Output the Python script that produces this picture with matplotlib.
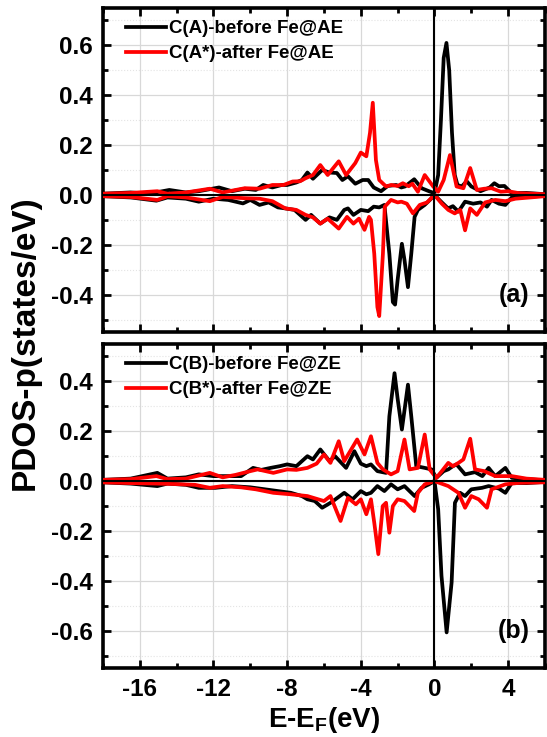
import matplotlib
matplotlib.use("Agg")
import matplotlib.pyplot as plt
from matplotlib.ticker import MultipleLocator, FormatStrFormatter

plt.rcParams['font.family'] = ['Liberation Sans', 'DejaVu Sans']
plt.rcParams['font.weight'] = 'bold'
plt.rcParams['axes.unicode_minus'] = False
plt.rcParams['mathtext.fontset'] = 'custom'
plt.rcParams['mathtext.rm'] = 'Liberation Sans:bold'
plt.rcParams['mathtext.bf'] = 'Liberation Sans:bold'

# ---- panel (a): C(A) before / C(A*) after Fe@AE ----
a_black_up_e = [-18, -16.5, -15.5, -14.4, -13.5, -12.8, -11.7, -11.0, -10.3, -9.7, -9.3, -8.8, -8.3, -8.0,
                -7.5, -7.2, -6.9, -6.6, -6.1, -5.7, -5.3, -5.0, -4.7, -4.3, -3.9, -3.6, -3.3, -2.9, -2.54,
                -2.08, -1.8, -1.6, -1.1, -0.7, -0.3, 0.0, 0.2, 0.35, 0.5, 0.65, 0.8, 0.95, 1.1, 1.25, 1.48,
                1.75, 2.0, 2.5, 3.0, 3.25, 3.5, 3.8, 4.2, 5.0, 6.0]
a_black_up = [0.005, 0.01, 0.005, 0.02, 0.01, 0.015, 0.03, 0.015, 0.025, 0.02, 0.04, 0.03, 0.04, 0.04,
              0.05, 0.06, 0.09, 0.065, 0.10, 0.09, 0.088, 0.06, 0.075, 0.045, 0.06, 0.06, 0.03, 0.015, 0.036,
              0.04, 0.03, 0.034, 0.063, 0.027, 0.015, 0.007, 0.08, 0.3, 0.55, 0.61, 0.5, 0.25, 0.08, 0.04, 0.034,
              0.055, 0.034, 0.015, 0.03, 0.047, 0.035, 0.036, 0.007, 0.008, 0.003]

a_black_dn_e = [-18, -16.5, -15.1, -14.5, -13.5, -12.8, -12.0, -11.2, -10.4, -10.0, -9.5, -9.0, -8.5, -8.1,
                -7.6, -7.0, -6.7, -6.2, -5.7, -5.3, -4.9, -4.7, -4.4, -4.0, -3.6, -3.3, -3.0, -2.72, -2.45,
                -2.26, -2.14, -2.0, -1.77, -1.63, -1.44, -1.26, -1.08, -0.9, -0.53, -0.25, 0.0, 0.4, 0.74,
                1.0, 1.3, 1.66, 2.1, 2.5, 2.85, 3.1, 3.5, 3.85, 4.2, 5.0, 6.0]
a_black_dn = [-0.005, -0.01, -0.023, -0.01, -0.015, -0.027, -0.015, -0.02, -0.034, -0.02, -0.04, -0.03, -0.05, -0.054,
              -0.06, -0.1, -0.08, -0.115, -0.09, -0.1, -0.06, -0.054, -0.08, -0.06, -0.065, -0.047, -0.05, -0.04, -0.236,
              -0.43, -0.44, -0.34, -0.196, -0.26, -0.37, -0.236, -0.088, -0.06, -0.04, -0.02, 0.0, -0.03, -0.054,
              -0.045, -0.067, -0.027, -0.035, -0.03, -0.047, -0.02, -0.035, -0.04, -0.01, -0.008, -0.003]

a_red_up_e = [-18, -16.5, -15.05, -14.5, -13.5, -12.2, -11.5, -10.8, -10.3, -9.5, -8.8, -8.2, -7.7, -7.3,
              -7.0, -6.6, -6.2, -5.8, -5.2, -4.8, -4.3, -4.0, -3.7, -3.5, -3.35, -3.18, -3.0, -2.63, -2.35,
              -2.0, -1.72, -1.4, -1.2, -0.9, -0.53, -0.07, 0.2, 0.5, 0.84, 1.2, 1.57, 1.94, 2.3, 2.7, 3.1,
              3.6, 4.0, 4.6, 5.3, 6.0]
a_red_up = [0.005, 0.008, 0.015, 0.005, 0.01, 0.025, 0.01, 0.02, 0.027, 0.025, 0.04, 0.04, 0.054, 0.055,
            0.067, 0.08, 0.12, 0.08, 0.135, 0.08, 0.128, 0.17, 0.155, 0.25, 0.37, 0.14, 0.06, 0.034, 0.04,
            0.036, 0.047, 0.035, 0.045, 0.013, 0.08, 0.034, 0.013, 0.06, 0.16, 0.034, 0.027, 0.108, 0.02, 0.025, 0.027,
            0.013, 0.015, 0.007, 0.005, 0.003]

a_red_dn_e = [-18, -16.5, -15.05, -14.5, -13.5, -12.2, -11.5, -10.3, -9.5, -8.8, -8.1, -7.5, -7.0, -6.6,
              -6.2, -5.8, -5.2, -4.75, -4.4, -4.1, -3.8, -3.55, -3.45, -3.27, -3.1, -3.0, -2.8, -2.7, -2.36,
              -2.0, -1.8, -1.5, -1.17, -0.8, -0.4, 0.0, 0.4, 0.75, 1.1, 1.4, 1.66, 1.94, 2.3, 2.75, 3.3,
              3.85, 4.4, 5.2, 6.0]
a_red_dn = [-0.005, -0.008, -0.02, -0.005, -0.01, -0.025, -0.008, -0.013, -0.015, -0.025, -0.054, -0.06, -0.08, -0.09,
            -0.115, -0.095, -0.135, -0.088, -0.115, -0.095, -0.14, -0.088, -0.1, -0.236, -0.45, -0.486, -0.236, -0.047, -0.02,
            -0.03, -0.027, -0.035, -0.074, -0.04, -0.03, 0.0, -0.035, -0.06, -0.074, -0.06, -0.142, -0.054, -0.08, -0.03, -0.02,
            -0.025, -0.015, -0.01, -0.005]

# ---- panel (b): C(B) before / C(B*) after Fe@ZE ----
b_black_up_e = [-18, -16.5, -15.05, -14.5, -13.5, -12.8, -12.0, -11.5, -10.5, -9.85, -9.4, -8.9, -8.4, -8.0,
                -7.5, -6.9, -6.6, -6.2, -5.7, -5.4, -4.8, -4.35, -4.0, -3.7, -3.45, -3.1, -2.63, -2.45, -2.17,
                -2.0, -1.77, -1.44, -1.26, -0.99, -0.53, -0.16, 0.1, 0.5, 0.75, 1.0, 1.2, 1.66, 2.2, 2.6, 2.94,
                3.3, 3.85, 4.2, 5.0, 6.0]
b_black_up = [0.005, 0.01, 0.033, 0.01, 0.015, 0.027, 0.02, 0.02, 0.02, 0.053, 0.045, 0.053, 0.06, 0.067,
              0.06, 0.1, 0.087, 0.127, 0.08, 0.1, 0.053, 0.12, 0.07, 0.06, 0.067, 0.04, 0.033, 0.26, 0.433,
              0.33, 0.207, 0.387, 0.26, 0.06, 0.053, 0.047, 0.013, 0.04, 0.047, 0.06, 0.067, 0.027, 0.036, 0.02, 0.053,
              0.02, 0.053, 0.013, 0.008, 0.003]

b_black_dn_e = [-18, -16.5, -15.05, -14.5, -13.5, -12.8, -11.9, -11.0, -10.0, -9.0, -7.8, -7.2, -6.9, -6.5,
                -6.1, -5.6, -4.9, -4.45, -4.0, -3.7, -3.45, -3.1, -2.72, -2.36, -2.0, -1.63, -1.08, -0.7, -0.3,
                0.0, 0.2, 0.38, 0.66, 0.93, 1.11, 1.39, 1.66, 2.0, 2.58, 2.94, 3.5, 3.85, 4.2, 5.0, 6.0]
b_black_dn = [-0.005, -0.01, -0.02, -0.01, -0.015, -0.027, -0.027, -0.02, -0.025, -0.035, -0.047, -0.06, -0.073, -0.08,
              -0.107, -0.085, -0.047, -0.073, -0.04, -0.053, -0.047, -0.02, -0.04, -0.013, -0.033, -0.02, -0.06, -0.027, -0.013,
              0.0, -0.113, -0.38, -0.607, -0.407, -0.087, -0.047, -0.06, -0.033, -0.027, -0.02, -0.03, -0.047, -0.007, -0.008, -0.003]

b_red_up_e = [-18, -16.5, -15.1, -14.5, -13.5, -12.2, -11.5, -10.8, -10.0, -9.6, -8.75, -8.0, -7.5, -6.9,
              -6.4, -6.0, -5.65, -5.2, -4.9, -4.2, -3.8, -3.45, -3.1, -2.8, -2.36, -2.0, -1.63, -1.35, -0.9,
              -0.53, -0.26, 0.1, 0.4, 0.75, 1.0, 1.3, 1.57, 1.94, 2.2, 2.7, 3.3, 3.85, 4.2, 5.0, 6.0]
b_red_up = [0.005, 0.008, 0.02, 0.008, 0.01, 0.033, 0.015, 0.025, 0.04, 0.047, 0.033, 0.047, 0.045, 0.053,
            0.07, 0.107, 0.073, 0.16, 0.08, 0.167, 0.107, 0.18, 0.073, 0.047, 0.027, 0.04, 0.167, 0.047, 0.053,
            0.187, 0.047, 0.013, 0.04, 0.073, 0.06, 0.073, 0.087, 0.17, 0.047, 0.04, 0.02, 0.02, 0.02, 0.01, 0.005]

b_red_dn_e = [-18, -16.5, -15.05, -14.0, -13.0, -12.2, -11.5, -10.5, -9.7, -8.75, -7.8, -6.9, -6.0, -5.65,
              -5.1, -4.7, -4.27, -4.0, -3.7, -3.45, -3.27, -3.05, -2.81, -2.63, -2.45, -2.26, -2.0, -1.63, -1.1,
              -0.9, -0.53, 0.0, 0.75, 1.3, 1.66, 2.0, 2.4, 2.85, 3.1, 3.85, 4.6, 6.0]
b_red_dn = [-0.005, -0.008, -0.01, -0.012, -0.015, -0.027, -0.02, -0.025, -0.033, -0.047, -0.053, -0.06, -0.08, -0.06,
            -0.16, -0.067, -0.093, -0.073, -0.133, -0.073, -0.167, -0.293, -0.1, -0.087, -0.207, -0.1, -0.073, -0.08, -0.12,
            -0.047, -0.013, 0.0, -0.02, -0.047, -0.107, -0.06, -0.073, -0.107, -0.033, -0.013, -0.007, -0.005]

panels = [
    dict(black=(a_black_up_e, a_black_up, a_black_dn_e, a_black_dn),
         red=(a_red_up_e, a_red_up, a_red_dn_e, a_red_dn),
         labels=('C(A)-before Fe@AE', 'C(A*)-after Fe@AE'), tag='(a)', ylim=(-0.55, 0.75),
         yticks=[-0.4, -0.2, 0.0, 0.2, 0.4, 0.6]),
    dict(black=(b_black_up_e, b_black_up, b_black_dn_e, b_black_dn),
         red=(b_red_up_e, b_red_up, b_red_dn_e, b_red_dn),
         labels=('C(B)-before Fe@ZE', 'C(B*)-after Fe@ZE'), tag='(b)', ylim=(-0.75, 0.55),
         yticks=[-0.6, -0.4, -0.2, 0.0, 0.2, 0.4]),
]

fig = plt.figure(figsize=(5.47, 7.37), dpi=100)
ax_top = fig.add_axes([0.1883, 0.5495, 0.808, 0.4396])
ax_bot = fig.add_axes([0.1883, 0.0936, 0.808, 0.4396], sharex=ax_top)

for ax, p in zip([ax_top, ax_bot], panels):
    ax.grid(True, which='major', color='#d8d8d8', lw=0.9, zorder=0)
    ax.yaxis.grid(True, which='minor', color='#e4e4e4', lw=0.8, ls=':', zorder=0)
    e1, v1, e2, v2 = p['black']
    ax.plot(e1, v1, color='black', lw=2.7, label=p['labels'][0], zorder=3)
    ax.plot(e2, v2, color='black', lw=2.7, zorder=3)
    e1, v1, e2, v2 = p['red']
    ax.plot(e1, v1, color='red', lw=2.7, label=p['labels'][1], zorder=4)
    ax.plot(e2, v2, color='red', lw=2.7, zorder=4)
    ax.axhline(0, color='black', lw=1.5, zorder=5)
    ax.axvline(0, color='black', lw=1.5, zorder=5)

    ax.set_xlim(-18, 6)
    ax.set_ylim(*p['ylim'])
    ax.set_yticks(p['yticks'])
    ax.yaxis.set_minor_locator(MultipleLocator(0.1))
    ax.xaxis.set_major_locator(MultipleLocator(4))
    ax.xaxis.set_minor_locator(MultipleLocator(2))
    ax.yaxis.set_major_formatter(FormatStrFormatter('%.1f'))
    ax.tick_params(which='both', direction='in', top=True, right=True, width=2.0,
                   labelsize=17.5, pad=7.5)
    ax.tick_params(which='major', length=6)
    ax.tick_params(which='minor', length=3.5)
    for s in ax.spines.values():
        s.set_linewidth(2.6)

    ax.legend(loc='upper left', frameon=False, handlelength=2.1,
              handletextpad=0.2, labelspacing=0.42, borderaxespad=0.25,
              bbox_to_anchor=(0.025, 1.0), prop={'weight': 'bold', 'size': 13.5})
    ax.text(0.965, 0.115, p['tag'], transform=ax.transAxes, ha='right', va='center',
            fontsize=18, fontweight='bold')

plt.setp(ax_top.get_xticklabels(), visible=False)
ax_bot.set_xlabel(r'E-E$_{\mathrm{F}}$(eV)', fontsize=20, fontweight='bold')
ax_bot.xaxis.set_label_coords(0.5, -0.115)
fig.text(0.047, 0.535, 'PDOS-p(states/eV)', rotation=90, ha='center', va='center',
         fontsize=24, fontweight='bold')

fig.savefig('out.png', dpi=100)
